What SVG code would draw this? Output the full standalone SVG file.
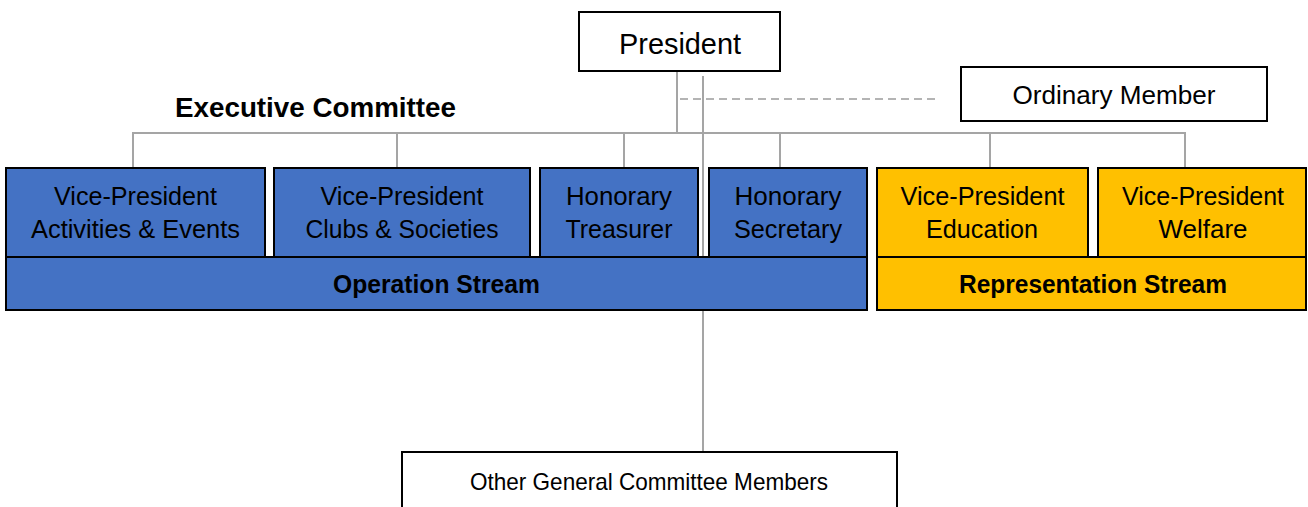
<svg xmlns="http://www.w3.org/2000/svg" width="1308" height="507" viewBox="0 0 1308 507">
<defs>
<style>
.t{font-family:"Liberation Sans",Arial,sans-serif;font-size:25px;fill:#000;text-anchor:middle}
.b{font-weight:bold}
.box{stroke:#000;stroke-width:2}
.white{fill:#fff}
.blue{fill:#4472C4}
.yellow{fill:#FFC000}
.ln{stroke:#A5A5A5;stroke-width:2;fill:none}
.dash{stroke:#B4B4B4;stroke-width:2;stroke-dasharray:8 5;fill:none}
</style>
</defs>
<rect width="1308" height="507" fill="#fff"/>
<g id="connectors">
<line class="ln" x1="677" y1="71" x2="677" y2="133"/>
<line class="ln" x1="132" y1="133" x2="1186" y2="133"/>
<line class="ln" x1="133" y1="133" x2="133" y2="168"/>
<line class="ln" x1="397" y1="133" x2="397" y2="168"/>
<line class="ln" x1="624" y1="133" x2="624" y2="168"/>
<line class="ln" x1="780" y1="133" x2="780" y2="168"/>
<line class="ln" x1="990" y1="133" x2="990" y2="168"/>
<line class="ln" x1="1185" y1="133" x2="1185" y2="168"/>
<line class="dash" x1="680" y1="99" x2="940" y2="99"/>
<line class="ln" x1="703" y1="76" x2="703" y2="452"/>
</g>
<g id="president">
<rect class="box white" x="579" y="12" width="201" height="59"/>
<text class="t" x="680" y="54" style="font-size:29px" textLength="122" lengthAdjust="spacingAndGlyphs">President</text>
</g>
<g id="executive-committee-label">
<text class="t b" x="175" y="117" style="font-size:27px;text-anchor:start" textLength="281" lengthAdjust="spacingAndGlyphs">Executive Committee</text>
</g>
<g id="ordinary-member">
<rect class="box white" x="961" y="67" width="306" height="54"/>
<text class="t" x="1114" y="104" textLength="203" lengthAdjust="spacingAndGlyphs">Ordinary Member</text>
</g>
<g id="operation-stream">
<rect class="box blue" x="6" y="257" width="861" height="53"/>
<text class="t b" x="436.5" y="293" textLength="207" lengthAdjust="spacingAndGlyphs">Operation Stream</text>
</g>
<g id="vp-activities">
<rect class="box blue" x="6" y="168" width="259" height="89"/>
<text class="t" x="135.5" y="205" textLength="163" lengthAdjust="spacingAndGlyphs">Vice-President</text>
<text class="t" x="135.5" y="238" textLength="209" lengthAdjust="spacingAndGlyphs">Activities &amp; Events</text>
</g>
<g id="vp-clubs">
<rect class="box blue" x="274" y="168" width="256" height="89"/>
<text class="t" x="402" y="205" textLength="163" lengthAdjust="spacingAndGlyphs">Vice-President</text>
<text class="t" x="402" y="238" textLength="193" lengthAdjust="spacingAndGlyphs">Clubs &amp; Societies</text>
</g>
<g id="hon-treasurer">
<rect class="box blue" x="540" y="168" width="158" height="89"/>
<text class="t" x="619" y="205" textLength="106" lengthAdjust="spacingAndGlyphs">Honorary</text>
<text class="t" x="619" y="238" textLength="107" lengthAdjust="spacingAndGlyphs">Treasurer</text>
</g>
<g id="hon-secretary">
<rect class="box blue" x="709" y="168" width="158" height="89"/>
<text class="t" x="788" y="205" textLength="107" lengthAdjust="spacingAndGlyphs">Honorary</text>
<text class="t" x="788" y="238" textLength="108" lengthAdjust="spacingAndGlyphs">Secretary</text>
</g>
<g id="representation-stream">
<rect class="box yellow" x="877" y="257" width="429" height="53"/>
<text class="t b" x="1093" y="293" textLength="268" lengthAdjust="spacingAndGlyphs">Representation Stream</text>
</g>
<g id="vp-education">
<rect class="box yellow" x="877" y="168" width="211" height="89"/>
<text class="t" x="982.5" y="205" textLength="164" lengthAdjust="spacingAndGlyphs">Vice-President</text>
<text class="t" x="982" y="238" textLength="112" lengthAdjust="spacingAndGlyphs">Education</text>
</g>
<g id="vp-welfare">
<rect class="box yellow" x="1098" y="168" width="208" height="89"/>
<text class="t" x="1203" y="205" textLength="162" lengthAdjust="spacingAndGlyphs">Vice-President</text>
<text class="t" x="1203" y="238" textLength="89" lengthAdjust="spacingAndGlyphs">Welfare</text>
</g>
<g id="other-general-committee">
<rect class="box white" x="402" y="452" width="495" height="70"/>
<text class="t" x="649" y="490" style="font-size:24px" textLength="358" lengthAdjust="spacingAndGlyphs">Other General Committee Members</text>
</g>
</svg>
